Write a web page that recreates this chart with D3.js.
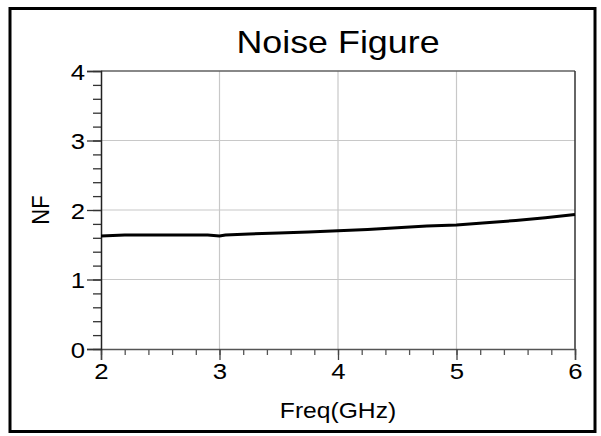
<!DOCTYPE html>
<html><head><meta charset="utf-8">
<script src="https://cdn.jsdelivr.net/npm/d3@7"></script>
<style>body{margin:0;background:#fff}svg{display:block}text{font-family:"Liberation Sans",Arial,sans-serif;fill:#000}</style>
</head><body>
<svg id="c" width="601" height="436"></svg>
<script>
const title = "Noise Figure";
const xLabel = "Freq(GHz)";
const yLabel = "NF";
const xTicks = [2, 3, 4, 5, 6];
const yTicks = [0, 1, 2, 3, 4];
const freq = [2.0, 2.2, 2.5, 2.9, 3.0, 3.05, 3.25, 3.5, 3.75, 4.0, 4.25, 4.5, 4.75, 5.0, 5.25, 5.5, 5.75, 6.0];
const nf   = [1.625, 1.64, 1.64, 1.64, 1.625, 1.64, 1.655, 1.67, 1.685, 1.70, 1.72, 1.745, 1.77, 1.785, 1.815, 1.85, 1.89, 1.935];

const svg = d3.select("#c");
const L = 101, R = 575, T = 71, B = 349;
const sx = 1.12;
const x = d3.scaleLinear().domain([2, 6]).range([L, R]);
const y = d3.scaleLinear().domain([0, 4]).range([B, T]);

// outer frame
svg.append("rect").attr("x", 10).attr("y", 8.5).attr("width", 585).attr("height", 423)
  .attr("fill", "none").attr("stroke", "#000").attr("stroke-width", 3);

// grid
svg.append("g").selectAll("line").data(xTicks.slice(1, -1)).join("line")
  .attr("x1", d => x(d)).attr("x2", d => x(d)).attr("y1", T).attr("y2", B)
  .attr("stroke", "#c8c8c8").attr("stroke-width", 1.2);
svg.append("g").selectAll("line").data(yTicks.slice(1, -1)).join("line")
  .attr("x1", L).attr("x2", R).attr("y1", d => y(d)).attr("y2", d => y(d))
  .attr("stroke", "#c8c8c8").attr("stroke-width", 1.2);

// top & right border
svg.append("line").attr("x1", L).attr("x2", R).attr("y1", T).attr("y2", T).attr("stroke", "#606060").attr("stroke-width", 1.5);
svg.append("line").attr("x1", R).attr("x2", R).attr("y1", T).attr("y2", B).attr("stroke", "#333").attr("stroke-width", 1.5);

// x axis
const xMinor = d3.range(2, 6.001, 0.2).map(v => +v.toFixed(1));
const gx = svg.append("g").attr("transform", `translate(0,${B})`)
  .call(d3.axisBottom(x).tickValues(xMinor).tickSize(6).tickFormat(""));
gx.select(".domain").remove();
gx.selectAll("line").attr("stroke", "#555").attr("stroke-width", 1.3);
const gx2 = svg.append("g").attr("transform", `translate(0,${B})`)
  .call(d3.axisBottom(x).tickValues(xTicks).tickSize(11).tickFormat(d3.format("d")));
gx2.select(".domain").attr("stroke", "#555").attr("stroke-width", 1.5);
gx2.selectAll("line").attr("stroke", "#444").attr("stroke-width", 1.3);
gx2.selectAll("text").attr("font-size", 23).attr("font-family", "Liberation Sans, Arial, sans-serif")
  .attr("fill", "#000").attr("y", 14).attr("dy", "0.71em").attr("x", 0)
  .attr("transform", `scale(${sx},1)`);

// y axis
const yMinor = d3.range(0, 4.001, 0.2).map(v => +v.toFixed(1));
const gy = svg.append("g").attr("transform", `translate(${L},0)`)
  .call(d3.axisLeft(y).tickValues(yMinor).tickSize(8).tickFormat(""));
gy.select(".domain").remove();
gy.selectAll("line").attr("stroke", "#333").attr("stroke-width", 1.3);
const gy2 = svg.append("g").attr("transform", `translate(${L},0)`)
  .call(d3.axisLeft(y).tickValues(yTicks).tickSize(14).tickFormat(d3.format("d")));
gy2.select(".domain").attr("stroke", "#222").attr("stroke-width", 1.5);
gy2.selectAll("line").attr("stroke", "#333").attr("stroke-width", 1.3);
gy2.selectAll("text").attr("font-size", 23).attr("font-family", "Liberation Sans, Arial, sans-serif")
  .attr("fill", "#000").attr("x", 0).attr("dy", "0.35em")
  .attr("transform", `translate(-16,0) scale(${sx},1)`);

// data line
svg.append("path").datum(freq.map((f, i) => [f, nf[i]]))
  .attr("d", d3.line().x(d => x(d[0])).y(d => y(d[1])))
  .attr("fill", "none").attr("stroke", "#000").attr("stroke-width", 3);

// title & labels
svg.append("text").attr("transform", `translate(${(L + R) / 2},53) scale(${sx},1)`)
  .attr("text-anchor", "middle").attr("font-size", 32).text(title);
svg.append("text").attr("transform", `translate(${(L + R) / 2},418) scale(${sx},1)`)
  .attr("text-anchor", "middle").attr("font-size", 22).text(xLabel);
svg.append("text").attr("transform", `translate(49,${y(2)}) scale(${sx},1) rotate(-90)`)
  .attr("text-anchor", "middle").attr("font-size", 22).text(yLabel);
</script>
</body></html>
